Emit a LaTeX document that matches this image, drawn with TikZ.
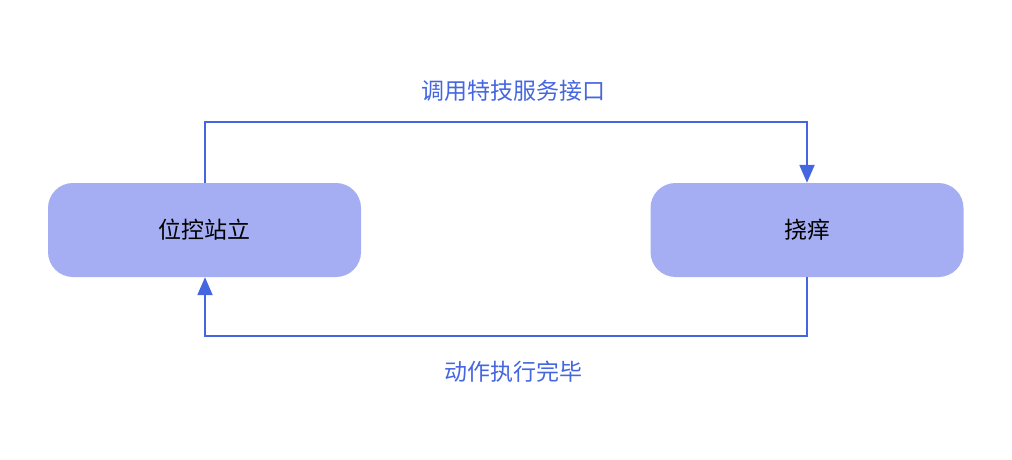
\documentclass[tikz,border=0pt]{standalone}
\usepackage{fontspec}
\newfontfamily\cjk{Noto Sans CJK SC}
\usetikzlibrary{arrows.meta}
\definecolor{boxfill}{HTML}{A5AEF3}
\definecolor{linec}{HTML}{4466E0}
\tikzset{
 box/.style={fill=boxfill,rounded corners=25pt,minimum width=313pt,minimum height=94pt,inner sep=0pt,font=\cjk\fontsize{23}{28}\selectfont,text=black},
 conn/.style={draw=linec,line width=2.2pt,-{Triangle[length=18pt,width=15pt]}},
 lab/.style={font=\cjk\fontsize{23}{28}\selectfont,text=linec}
}
\begin{document}
\begin{tikzpicture}[x=1pt,y=-1pt]
\useasboundingbox (0,0) rectangle (1012,460);
\node[box] (a) at (204.5,230) {位控站立};
\node[box] (b) at (807,230) {挠痒};
\coordinate (t1) at (205,122);
\coordinate (t2) at (807,122);
\coordinate (d1) at (807,336);
\coordinate (d2) at (205,336);
\draw[conn] (a.north -| t1) -- (t1) -- (t2) -- (b.north -| t2);
\draw[conn] (b.south -| d1) -- (d1) -- (d2) -- (a.south -| d2);
\node[lab] (l1) at (513,91) {调用特技服务接口};
\node[lab] (l2) at (513,372) {动作执行完毕};
\end{tikzpicture}
\end{document}
